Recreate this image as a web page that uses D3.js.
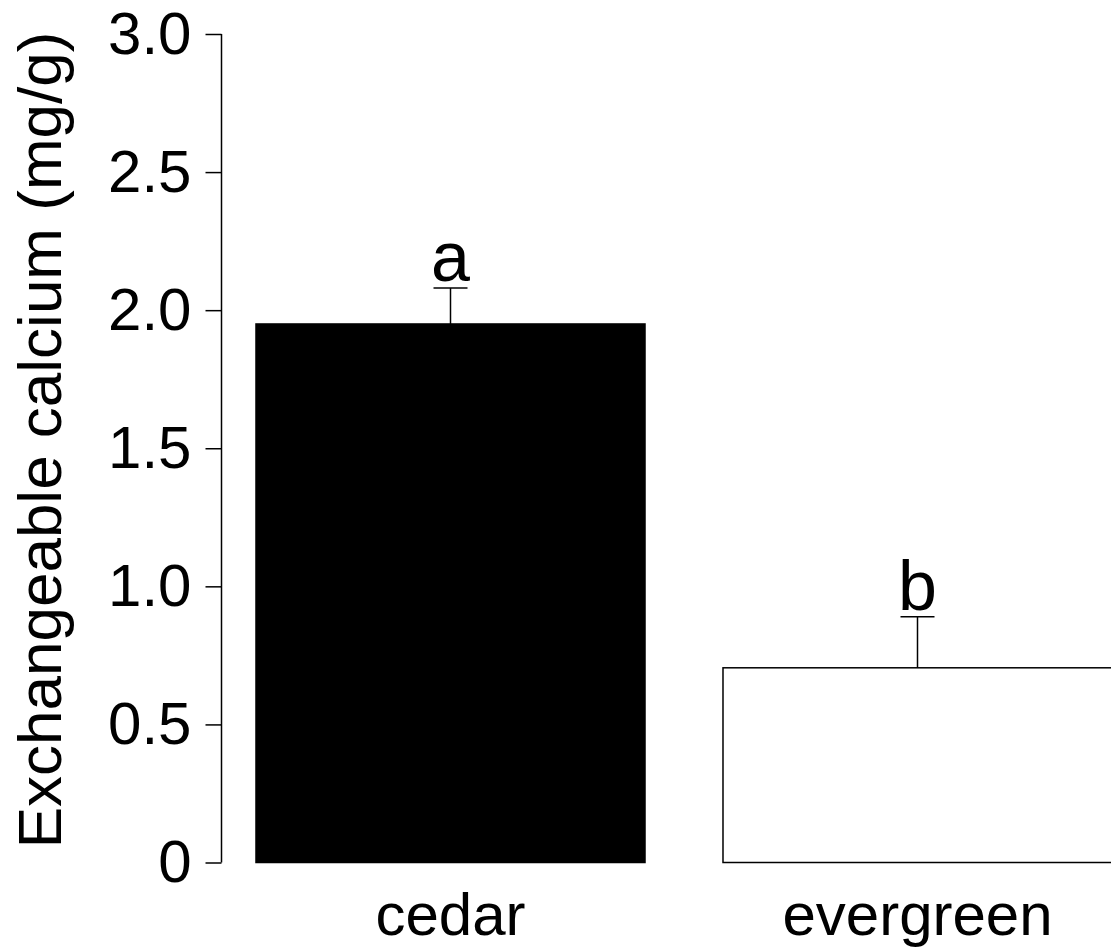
<!DOCTYPE html>
<html>
<head>
<meta charset="utf-8">
<script src="https://cdn.jsdelivr.net/npm/d3@7"></script>
<style>
  html, body { margin: 0; padding: 0; background: #fff; }
  svg { display: block; }
  text { font-family: "Liberation Sans", Arial, sans-serif; fill: #000; }
</style>
</head>
<body>
<svg id="chart" width="1111" height="951"></svg>
<script>
const categories = ["cedar", "evergreen"];
const values = [1.95, 0.705];
const errors = [0.13, 0.185];
const sigLetters = ["a", "b"];
const fills = ["#000000", "#ffffff"];
const yTicks = [0, 0.5, 1.0, 1.5, 2.0, 2.5, 3.0];
const yTickLabels = ["0", "0.5", "1.0", "1.5", "2.0", "2.5", "3.0"];
const yTitle = "Exchangeable calcium (mg/g)";

const svg = d3.select("#chart");
const axisX = 221.5;

const y = d3.scaleLinear().domain([0, 3]).range([862.5, 34]);
const x = d3.scaleBand().domain(categories).range([217, 1151])
  .paddingInner(0.167).paddingOuter(0.0835);

// y axis
const yAxis = d3.axisLeft(y)
  .tickValues(yTicks)
  .tickFormat((d, i) => yTickLabels[i])
  .tickSize(16)
  .tickPadding(14);

const gy = svg.append("g").attr("transform", `translate(${axisX},0)`).call(yAxis);
gy.select(".domain").attr("stroke", "#000").attr("stroke-width", 1.5)
  .attr("d", `M0,${y(3)}V${y(0)}`);
gy.selectAll(".tick line").attr("stroke", "#000").attr("stroke-width", 1.5);
gy.selectAll(".tick text").attr("font-size", 60)
  .attr("font-family", '"Liberation Sans", Arial, sans-serif').attr("fill", "#000");

// bars
svg.selectAll("rect.bar").data(categories).enter().append("rect")
  .attr("class", "bar")
  .attr("x", d => x(d))
  .attr("width", x.bandwidth())
  .attr("y", (d, i) => y(values[i]))
  .attr("height", (d, i) => y(0) - y(values[i]))
  .attr("fill", (d, i) => fills[i])
  .attr("stroke", "#000")
  .attr("stroke-width", 1.5);

// error bars
const capW = 34;
categories.forEach((c, i) => {
  const cx = x(c) + x.bandwidth() / 2;
  svg.append("line")
    .attr("x1", cx).attr("x2", cx)
    .attr("y1", y(values[i])).attr("y2", y(values[i] + errors[i]))
    .attr("stroke", "#000").attr("stroke-width", 1.5);
  svg.append("line")
    .attr("x1", cx - capW / 2).attr("x2", cx + capW / 2)
    .attr("y1", y(values[i] + errors[i])).attr("y2", y(values[i] + errors[i]))
    .attr("stroke", "#000").attr("stroke-width", 1.5);
  svg.append("text")
    .attr("x", cx)
    .attr("y", y(values[i] + errors[i]) - 7)
    .attr("text-anchor", "middle")
    .attr("font-size", 70)
    .text(sigLetters[i]);
  svg.append("text")
    .attr("x", cx)
    .attr("y", 935)
    .attr("text-anchor", "middle")
    .attr("font-size", 60)
    .text(c);
});

// y title
svg.append("text")
  .attr("transform", `translate(61,440) rotate(-90)`)
  .attr("text-anchor", "middle")
  .attr("font-size", 62)
  .text(yTitle);
</script>
</body>
</html>
